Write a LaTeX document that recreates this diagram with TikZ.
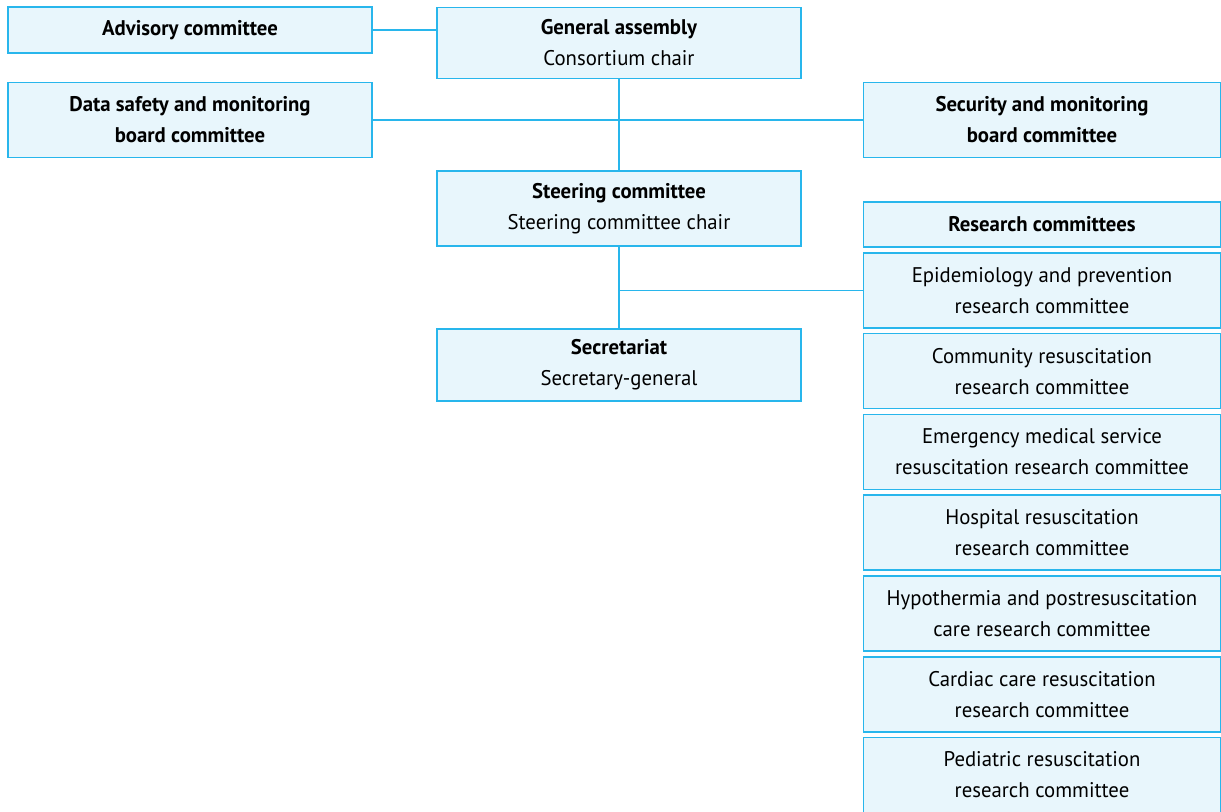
\documentclass[tikz,border=0pt]{standalone}
\usepackage{fontspec}
\setmainfont[FakeStretch=0.98]{PT Sans}
\usepackage{tikz}
\usetikzlibrary{positioning,calc}
\definecolor{linkblue}{RGB}{40,182,236}
\definecolor{paleblue}{RGB}{232,246,252}

\begin{document}
\begin{tikzpicture}[x=0.5pt, y=-0.5pt,
    unit/.style={draw=linkblue, fill=paleblue, line width=0.8pt, minimum width=182pt,
      minimum height=37.5pt, inner sep=0pt, align=center,
      font=\fontsize{10.6}{15.5}\selectfont},
    wide/.style={unit, minimum width=178.5pt},
    link/.style={draw=linkblue, line width=0.8pt}]

\useasboundingbox (0,0) rectangle (1221,811);

% top row
\node[unit, minimum height=23pt] (adv) at (190,30) {\textbf{Advisory committee}};
\node[unit, minimum height=35.5pt] (ga) at (619,43) {\textbf{General assembly}\\Consortium chair};
\node[unit] (dsmb) at (190,120) {\textbf{Data safety and monitoring}\\\textbf{board committee}};
\node[wide] (smb) at (1042,120) {\textbf{Security and monitoring}\\\textbf{board committee}};

% middle column
\node[unit] (steer) at (619,208.5) {\textbf{Steering committee}\\Steering committee chair};
\node[unit, minimum height=36pt] (sec) at (619,365) {\textbf{Secretariat}\\Secretary-general};

% research committees
\node[wide, minimum height=22.5pt] (rc) at (1042,224.5) {\textbf{Research committees}};
\node[wide, below=2.1pt of rc] (epi) {Epidemiology and prevention\\research committee};
\node[wide, below=2.1pt of epi] (comm) {Community resuscitation\\research committee};
\node[wide, below=2.1pt of comm] (ems) {Emergency medical service\\resuscitation research committee};
\node[wide, below=2.1pt of ems] (hosp) {Hospital resuscitation\\research committee};
\node[wide, below=2.1pt of hosp] (hypo) {Hypothermia and postresuscitation\\care research committee};
\node[wide, below=2.1pt of hypo] (card) {Cardiac care resuscitation\\research committee};
\node[wide, below=2.1pt of card] (ped) {Pediatric resuscitation\\research committee};

% connectors
\draw[link] (adv.east) -- (adv.east -| ga.west);
\draw[link] (ga.south) -- (steer.north);
\draw[link] (dsmb.east) -- (smb.west);
\draw[link] (steer.south) -- (sec.north);
\coordinate (tap) at (steer.south |- epi.west);
\draw[link] (tap) -- (epi.west);
\end{tikzpicture}
\end{document}
